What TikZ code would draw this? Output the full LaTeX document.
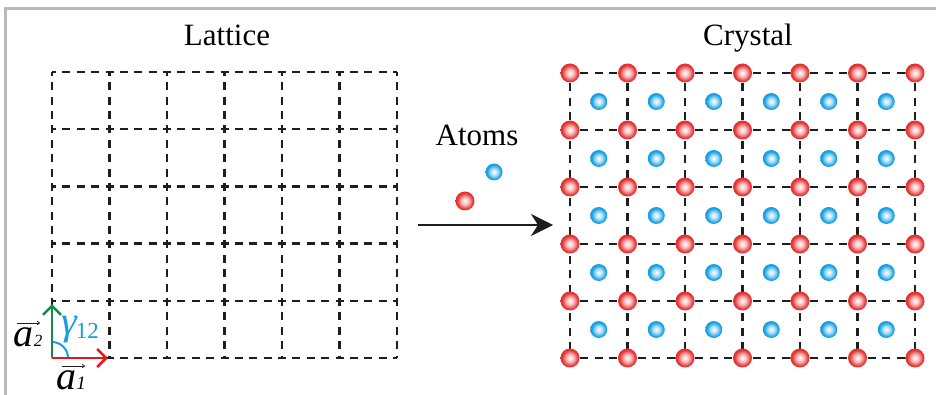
\documentclass[tikz,border=0pt]{standalone}
\usepackage{fontspec}
\setmainfont{Liberation Serif}
\usetikzlibrary{arrows.meta}
\definecolor{atomred}{RGB}{230,52,52}
\definecolor{atomblue}{RGB}{25,162,228}
\definecolor{framegray}{RGB}{185,185,185}
\definecolor{gridc}{RGB}{30,30,30}
\definecolor{vred}{RGB}{232,20,30}
\definecolor{vgreen}{RGB}{20,140,70}
\definecolor{gcyan}{RGB}{20,160,220}
\pgfdeclareradialshading{redball}{\pgfpoint{0bp}{0bp}}{color(0bp)=(white); color(10bp)=(atomred!35!white); color(21bp)=(atomred); color(31bp)=(atomred!92!black); color(50bp)=(atomred!92!black)}
\pgfdeclareradialshading{blueball}{\pgfpoint{0bp}{0bp}}{color(0bp)=(white); color(10bp)=(atomblue!35!white); color(21bp)=(atomblue); color(31bp)=(atomblue!95!black); color(50bp)=(atomblue!95!black)}
\tikzset{
  redatom/.style={circle, minimum size=19pt, inner sep=0pt, shading=redball},
  blueatom/.style={circle, minimum size=17pt, inner sep=0pt, shading=blueball},
  gridline/.style={gridc, line width=2.4pt, dash pattern=on 8pt off 6.375pt, dash phase=4pt},
  titletext/.style={anchor=base, inner sep=0pt, font=\fontsize{31}{36}\selectfont},
  veclabel/.style={anchor=base, inner sep=0pt, font=\fontsize{40}{40}\selectfont\itshape},
  vecarrow/.style={line width=0.7pt, gridc, -{To[length=3pt,width=4pt]}},
}
\begin{document}
\begin{tikzpicture}[x=1pt,y=-1pt]
\useasboundingbox (0,0) rectangle (936,395);
% frame
\draw[framegray, line width=2.5pt] (5.5,395) -- (5.5,8.5) -- (936,8.5);
% titles
\node[titletext] (lattice) at (227,46) {Lattice};
\node[titletext] (crystal) at (748,46) {Crystal};
\node[titletext] (atoms) at (477,146) {Atoms};
% lattice grid
\foreach \i in {0,...,6} {
  \coordinate (lt-\i) at (52+57.5*\i,72);
  \coordinate (lb-\i) at (52+57.5*\i,358);
  \draw[gridline] (lt-\i) -- (lb-\i);
}
\foreach \j in {0,...,5} {
  \coordinate (ll-\j) at (52,72+57.2*\j);
  \coordinate (lr-\j) at (397,72+57.2*\j);
  \draw[gridline] (ll-\j) -- (lr-\j);
}
% basis vectors
\coordinate (o) at (52,358);
\coordinate (a1end) at (108,358);
\coordinate (a2end) at (52,304);
\draw[gcyan, line width=2pt] (68,358) arc[start angle=0, end angle=-90, radius=16];
\draw[vred, line width=2.5pt, -{Straight Barb[length=9pt,width=18pt]}] (o) -- (a1end);
\draw[vgreen, line width=2.5pt, -{Straight Barb[length=9pt,width=18pt]}] (o) -- (a2end);
\node[veclabel] (va1) at (71,389) {a\fontsize{19}{19}\selectfont 1};
\node[veclabel] (va2) at (28,346) {a\fontsize{17}{17}\selectfont 2};
\coordinate (ar1s) at (62,366); \coordinate (ar1e) at (85,366);
\coordinate (ar2s) at (17,323); \coordinate (ar2e) at (40,323);
\draw[vecarrow] (ar1s) -- (ar1e);
\draw[vecarrow] (ar2s) -- (ar2e);
\node[anchor=base west, inner sep=0pt, text=gcyan] (gam) at (61,334) {\fontsize{40}{40}\selectfont\itshape γ\kern-1pt\fontsize{23}{23}\selectfont\upshape\raisebox{-4pt}{12}};
% atoms legend
\node[blueatom] (ba) at (494,172) {};
\node[redatom] (ra) at (465,201) {};
% reaction arrow
\coordinate (arrs) at (418,225);
\coordinate (arre) at (553,225);
\draw[gridc, line width=2.2pt, -{Stealth[length=22pt,width=22pt,inset=7pt]}] (arrs) -- (arre);
% crystal
\foreach \i in {0,...,6} \foreach \j in {0,...,5} \coordinate (c-\i-\j) at (570+57.5*\i,73+57*\j);
\foreach \i in {0,...,6} \draw[gridline] (c-\i-0) -- (c-\i-5);
\foreach \j in {0,...,5} \draw[gridline] (c-0-\j) -- (c-6-\j);
\foreach \i in {0,...,6} \foreach \j in {0,...,5} \node[redatom] (r-\i-\j) at (c-\i-\j) {};
\foreach \i in {0,...,5} \foreach \j in {0,...,4} \node[blueatom] (b-\i-\j) at (598.75+57.5*\i,101.5+57*\j) {};
\end{tikzpicture}
\end{document}
